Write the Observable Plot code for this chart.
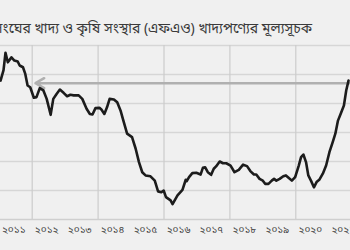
<!DOCTYPE html>
<html>
<head>
<meta charset="utf-8">
<script src="https://cdn.jsdelivr.net/npm/d3@7"></script>
<script src="https://cdn.jsdelivr.net/npm/@observablehq/plot@0.6"></script>
<style>
  html, body { margin: 0; padding: 0; background: #f0f0f0; }
  #wrap { position: relative; width: 350px; height: 250px; overflow: hidden; background: #f0f0f0;
          font-family: "Noto Sans Bengali", "Lohit Bengali", "Noto Sans", "DejaVu Sans", sans-serif; }
  #title { position: absolute; right: 38px; top: 19px; white-space: nowrap; font-size: 14px; color: #3a3a3a; line-height: 22px; }
  #chart { position: absolute; left: 0; top: 0; }
</style>
</head>
<body>
<div id="wrap">
  <div id="chart"></div>
  <div id="title">জাতিসংঘের খাদ্য ও কৃষি সংস্থার (এফএও) খাদ্যপণ্যের মূল্যসূচক</div>
</div>
<script>
// Decimal year of each reading and FAO food price index value
const dates = [2011.04,2011.13,2011.19,2011.26,2011.37,2011.46,2011.56,2011.62,2011.72,2011.79,2011.86,2011.94,2012.05,2012.13,2012.23,2012.34,2012.44,2012.56,2012.64,2012.74,2012.84,2012.96,2013.06,2013.16,2013.26,2013.41,2013.52,2013.65,2013.75,2013.83,2013.92,2014.04,2014.10,2014.19,2014.27,2014.35,2014.48,2014.58,2014.68,2014.78,2014.88,2015.03,2015.14,2015.24,2015.34,2015.44,2015.59,2015.72,2015.82,2015.92,2015.99,2016.06,2016.20,2016.26,2016.41,2016.56,2016.66,2016.69,2016.76,2016.86,2016.98,2017.11,2017.18,2017.25,2017.33,2017.43,2017.51,2017.58,2017.69,2017.79,2017.89,2018.02,2018.14,2018.27,2018.40,2018.52,2018.62,2018.73,2018.80,2018.90,2019.00,2019.07,2019.17,2019.27,2019.34,2019.41,2019.51,2019.62,2019.70,2019.78,2019.88,2019.98,2020.09,2020.16,2020.23,2020.31,2020.38,2020.46,2020.55,2020.63,2020.72,2020.82,2020.92,2021.02,2021.12,2021.20,2021.28,2021.36,2021.46,2021.53,2021.60,2021.68];
const values = [127.9,131.5,137.5,134.2,135.9,134.8,134.5,133.1,132.5,130.2,126.2,125.6,122.0,122.2,125.3,124.5,121.6,116.1,121.6,123.3,124.8,123.6,122.5,123.0,122.8,122.8,121.6,118.2,116.4,116.2,118.4,118.5,117.9,116.4,118.7,121.6,121.4,120.4,117.6,113.6,109.6,108.4,104.4,99.8,96.3,95.2,94.9,93.4,89.7,89.4,90.0,87.7,86.6,85.3,88.3,90.2,93.7,93.2,94.6,96.0,96.1,95.5,97.8,98.0,96.3,95.4,97.5,98.3,100.0,99.4,99.4,98.6,96.3,97.1,98.9,98.4,96.7,95.5,95.5,94.0,93.4,92.3,92.3,93.4,94.0,93.4,94.0,94.9,95.2,94.4,93.4,94.6,98.6,101.5,102.4,99.8,95.2,93.4,91.1,92.9,93.8,95.8,98.6,103.2,106.7,109.6,114.1,116.4,119.3,124.5,127.9];
const yearLabels = ["২০১১","২০১২","২০১৩","২০১৪","২০১৫","২০১৬","২০১৭","২০১৮","২০১৯","২০২০","২০২১"];
const labelYears = [2011,2012,2013,2014,2015,2016,2017,2018,2019,2020,2021];
const gridYears = [2012,2014,2016,2018,2020];
const gridValues = [90,100,110,120,130,140];
const refLevel = 127;           // 2011 level marked by the arrow
const refFrom = 2021.9, refTo = 2012.1;

const data = dates.map((d, i) => ({date: d, value: values[i]}));
const labelPos = labelYears.map(y => y + 0.44);

const chart = Plot.plot({
  width: 350, height: 250,
  marginTop: 45, marginBottom: 31, marginLeft: 0, marginRight: 0,
  style: {background: "transparent", fontFamily: '"Noto Sans Bengali", "Lohit Bengali", "Noto Sans", sans-serif'},
  x: {domain: [2011.038, 2021.66], axis: null},
  y: {domain: [80, 140], axis: null},
  marks: [
    Plot.gridY(gridValues, {stroke: "#d6d6d6", strokeOpacity: 1, strokeWidth: 1.5}),
    Plot.gridX(gridYears, {stroke: "#cccccc", strokeOpacity: 1, strokeWidth: 1.2}),
    Plot.ruleY([80], {stroke: "#cfcfcf", strokeWidth: 1.5}),
    Plot.axisX(labelPos, {tickSize: 0, tickPadding: 6, fontSize: 10, fill: "#444", tickFormat: (d, i) => yearLabels[i], label: null}),
    Plot.arrow([{x1: refFrom, y1: refLevel, x2: refTo, y2: refLevel}], {x1: "x1", y1: "y1", x2: "x2", y2: "y2", stroke: "#b0b0b0", strokeWidth: 2.5, headLength: 6, bend: 0}),
    Plot.line(data, {x: "date", y: "value", stroke: "#1c1c1c", strokeWidth: 2.6, curve: "linear"})
  ]
});
document.getElementById("chart").appendChild(chart);
</script>
</body>
</html>
